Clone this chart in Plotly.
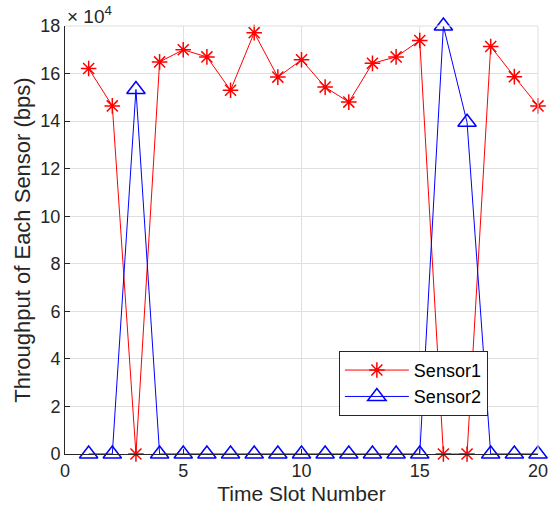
import plotly.graph_objects as go

slots = list(range(1, 21))
sensor1 = [162100, 146400, 0, 164900, 170000, 167000, 153000, 177200, 158500, 165800,
           154300, 148000, 164300, 167000, 173900, 0, 0, 171400, 158700, 146400]
sensor2 = [0, 0, 153300, 0, 0, 0, 0, 0, 0, 0,
           0, 0, 0, 0, 0, 180000, 139500, 0, 0, 0]
y_tickvals = [0, 20000, 40000, 60000, 80000, 100000, 120000, 140000, 160000, 180000]
y_ticktext = ["0", "2", "4", "6", "8", "10", "12", "14", "16", "18"]
x_tickvals = [0, 5, 10, 15, 20]

FONT = "Liberation Sans, Arial, Helvetica, sans-serif"
AX = "#262626"
GRID = "#dfdfdf"

fig = go.Figure()
fig.add_trace(go.Scatter(
    x=slots, y=sensor1, mode="lines+markers", name="Sensor1",
    line=dict(color="#ff0000", width=1),
    marker=dict(symbol="asterisk-open", size=13, color="#ff0000",
                line=dict(color="#ff0000", width=1.5)),
    cliponaxis=False,
))
fig.add_trace(go.Scatter(
    x=slots, y=sensor2, mode="lines+markers", name="Sensor2",
    line=dict(color="#0000ff", width=1),
    marker=dict(symbol="triangle-up-open", size=16, color="#0000ff",
                line=dict(color="#0000ff", width=1.5)),
    cliponaxis=False,
))

fig.update_layout(
    width=560, height=513,
    margin=dict(l=65, r=15, t=26, b=55),
    paper_bgcolor="white", plot_bgcolor="white",
    font=dict(family=FONT, size=18, color=AX),
    showlegend=True,
    legend=dict(
        x=0.579, y=0.241, xanchor="left", yanchor="top",
        bgcolor="white", bordercolor=AX, borderwidth=1,
        font=dict(size=18, color="black"),
        tracegroupgap=0, itemwidth=64,
    ),
)
fig.update_xaxes(
    range=[0, 20], tickvals=x_tickvals, ticks="inside", ticklen=5, tickcolor=AX,
    showline=True, linecolor=AX, linewidth=1, mirror=False,
    showgrid=True, gridcolor=GRID, gridwidth=1, zeroline=False,
    title=dict(text="Time Slot Number", font=dict(size=21, color=AX), standoff=6),
    tickfont=dict(size=18, color=AX),
)
fig.update_yaxes(
    range=[0, 180000], tickvals=y_tickvals, ticktext=y_ticktext,
    ticks="inside", ticklen=5, tickcolor=AX,
    showline=True, linecolor=AX, linewidth=1, mirror=False,
    showgrid=True, gridcolor=GRID, gridwidth=1, zeroline=False,
    title=dict(text="Throughput of Each Sensor (bps)", font=dict(size=22, color=AX), standoff=3),
    tickfont=dict(size=18, color=AX),
)
# light frame on top/right (grid-like)
fig.add_shape(type="line", xref="paper", yref="paper", x0=0, x1=1, y0=1, y1=1,
              line=dict(color=GRID, width=1))
fig.add_shape(type="line", xref="paper", yref="paper", x0=1, x1=1, y0=0, y1=1,
              line=dict(color=GRID, width=1))
fig.add_annotation(
    xref="paper", yref="paper", x=0.0, y=1.0, xanchor="left", yanchor="bottom",
    text="\u00d7 10<sup>4</sup>", showarrow=False, yshift=-3, xshift=0,
    font=dict(family=FONT, size=19, color=AX),
)

fig.write_html(
    "out.html",
    config={"displayModeBar": False},
    post_script="document.body.style.margin='0';document.body.style.overflow='hidden';",
)
